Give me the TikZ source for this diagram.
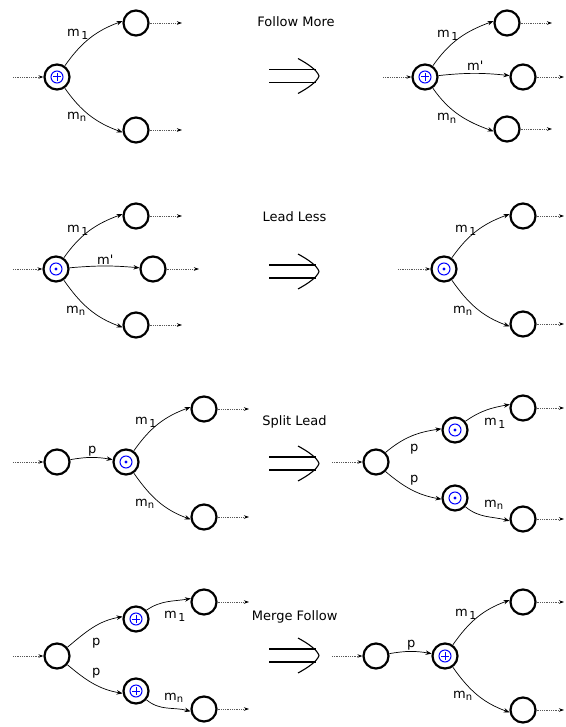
\documentclass[tikz,border=0pt]{standalone}
\usepackage{fontspec}
\setmainfont{DejaVu Sans}
\usetikzlibrary{arrows.meta}
\newcommand{\mone}{m\kern1.5pt\raisebox{-3pt}{\fontsize{11}{11}\selectfont 1}}
\newcommand{\mn}{m\raisebox{-2.5pt}{\fontsize{10}{10}\selectfont n}}
\newcommand{\mprime}{m\textquotesingle}
\tikzset{
  st/.style={circle,draw,line width=2.2pt,minimum size=25pt,inner sep=0pt},
  plusst/.style={st,path picture={
     \draw[blue,line width=1pt] (path picture bounding box.center) circle (6pt);
     \draw[blue,line width=1pt] ([xshift=-3.6pt]path picture bounding box.center) -- ++(7.2pt,0);
     \draw[blue,line width=1pt] ([yshift=-3.6pt]path picture bounding box.center) -- ++(0,7.2pt);}},
  dotst/.style={st,path picture={
     \draw[blue,line width=1pt] (path picture bounding box.center) circle (6pt);
     \fill[blue] (path picture bounding box.center) circle (1.7pt);}},
  msg/.style={-{Stealth[length=6pt,width=4.5pt]},line width=0.7pt},
  ext/.style={densely dotted,line width=0.8pt,draw=black!65,-{Stealth[length=5pt,width=3.5pt,black]}},
  lbl/.style={anchor=base west,inner sep=0pt,font=\fontsize{13}{15}\selectfont},
  ttl/.style={anchor=base,inner sep=0pt,font=\fontsize{13}{15}\selectfont},
  implies/.pic={
     \draw[line width=1.1pt] (-25,-6.5) -- (22,-6.5) (-25,6.5) -- (22,6.5);
     \draw[line width=1.1pt] (4,-17.5) .. controls (14,-12) and (23,-6) .. (25,0)
                              .. controls (23,6) and (14,12) .. (4,17.5);}
}
\begin{document}
\begin{tikzpicture}[x=1pt,y=-1pt]
\useasboundingbox (0,0) rectangle (565,727);
% ---------------- Panel 1: Follow More
\node[ttl] (t1) at (296,27) {Follow More};
\pic at (294,76) {implies};
\node[plusst] (a0) at (57,77) {};
\node[st] (a1) at (136,23) {};
\node[st] (a2) at (136,130) {};
\coordinate (a0i) at (13,77);
\coordinate (a1o) at (182,23);
\coordinate (a2o) at (182,130);
\draw[ext] (a0i) -- (a0);
\draw[ext] (a1) -- (a1o);
\draw[ext] (a2) -- (a2o);
\draw[msg] (a0) to[out=55,in=200] (a1.172);
\draw[msg] (a0) to[out=-55,in=160] (a2.190);
\node[lbl] at (67,37) {\mone};
\node[lbl] at (67,119.5) {\mn};
\node[plusst] (b0) at (425,77) {};
\node[st] (b1) at (507,23) {};
\node[st] (b2) at (523,77) {};
\node[st] (b3) at (507,129) {};
\coordinate (b0i) at (383,77);
\coordinate (b1o) at (552,23);
\coordinate (b2o) at (564,77);
\coordinate (b3o) at (552,129);
\draw[ext] (b0i) -- (b0);
\draw[ext] (b1) -- (b1o);
\draw[ext] (b2) -- (b2o);
\draw[ext] (b3) -- (b3o);
\draw[msg] (b0) to[out=55,in=200] (b1.172);
\draw[msg] (b0) to[bend left=6] (b2);
\draw[msg] (b0) to[out=-55,in=160] (b3.190);
\node[lbl] at (437,38) {\mone};
\node[lbl] at (467,71) {\mprime};
\node[lbl] at (437,121) {\mn};
% ---------------- Panel 2: Lead Less
\node[ttl] (t2) at (294.5,222) {Lead Less};
\pic at (294,271.5) {implies};
\node[dotst] (c0) at (56,269) {};
\node[st] (c1) at (136,216) {};
\node[st] (c2) at (153,269) {};
\node[st] (c3) at (136,325) {};
\coordinate (c0i) at (13,269);
\coordinate (c1o) at (182,216);
\coordinate (c2o) at (199,269);
\coordinate (c3o) at (182,325);
\draw[ext] (c0i) -- (c0);
\draw[ext] (c1) -- (c1o);
\draw[ext] (c2) -- (c2o);
\draw[ext] (c3) -- (c3o);
\draw[msg] (c0) to[out=55,in=200] (c1.172);
\draw[msg] (c0) to[bend left=5] (c2);
\draw[msg] (c0) to[out=-55,in=160] (c3.190);
\node[lbl] at (67,232) {\mone};
\node[lbl] at (97,264) {\mprime};
\node[lbl] at (66,313) {\mn};
\node[dotst] (d0) at (444,269) {};
\node[st] (d1) at (523,216) {};
\node[st] (d2) at (523,324) {};
\coordinate (d0i) at (398,269);
\coordinate (d1o) at (564,216);
\coordinate (d2o) at (564,324);
\draw[ext] (d0i) -- (d0);
\draw[ext] (d1) -- (d1o);
\draw[ext] (d2) -- (d2o);
\draw[msg] (d0) to[out=55,in=200] (d1.172);
\draw[msg] (d0) to[out=-55,in=160] (d2.190);
\node[lbl] at (455,232) {\mone};
\node[lbl] at (453,313) {\mn};
% ---------------- Panel 3: Split Lead
\node[ttl] (t3) at (294.5,425) {Split Lead};
\pic at (294,463.5) {implies};
\node[st] (e0) at (57,462) {};
\node[dotst] (e1) at (126,462) {};
\node[st] (e2) at (204,409) {};
\node[st] (e3) at (204,517) {};
\coordinate (e0i) at (13,462);
\coordinate (e2o) at (249,409);
\coordinate (e3o) at (249,517);
\draw[ext] (e0i) -- (e0);
\draw[ext] (e2) -- (e2o);
\draw[ext] (e3) -- (e3o);
\draw[msg] (e0) to[bend left=10] (e1);
\draw[msg] (e1) to[out=55,in=200] (e2.172);
\draw[msg] (e1) to[out=-55,in=160] (e3.190);
\node[lbl] at (88,453) {p};
\node[lbl] at (135,424) {\mone};
\node[lbl] at (135,506) {\mn};
\node[st] (f0) at (376,462) {};
\node[dotst] (f1) at (455,430) {};
\node[dotst] (f2) at (455,498) {};
\node[st] (f3) at (523,408) {};
\node[st] (f4) at (523,519) {};
\coordinate (f0i) at (332,462);
\coordinate (f3o) at (564,408);
\coordinate (f4o) at (564,519);
\draw[ext] (f0i) -- (f0);
\draw[ext] (f3) -- (f3o);
\draw[ext] (f4) -- (f4o);
\draw[msg] (f0.45) to[out=40,in=188] (f1.175);
\draw[msg] (f0.-45) to[out=-40,in=170] (f2.185);
\draw[msg] (f1.40) to[out=35,in=190] (f3.165);
\draw[msg] (f2.-40) to[out=-40,in=165] (f4.188);
\node[lbl] at (410,451) {p};
\node[lbl] at (410,482) {p};
\node[lbl] at (484,425) {\mone};
\node[lbl] at (484,507) {\mn};
% ---------------- Panel 4: Merge Follow
\node[ttl] (t4) at (294.7,620) {Merge Follow};
\pic at (294,655.5) {implies};
\node[st] (g0) at (57,656) {};
\node[plusst] (g1) at (136,619) {};
\node[plusst] (g2) at (136,691) {};
\node[st] (g3) at (204,602) {};
\node[st] (g4) at (204,709) {};
\coordinate (g0i) at (13,656);
\coordinate (g3o) at (249,602);
\coordinate (g4o) at (249,709);
\draw[ext] (g0i) -- (g0);
\draw[ext] (g3) -- (g3o);
\draw[ext] (g4) -- (g4o);
\draw[msg] (g0.40) to[out=40,in=190] (g1.170);
\draw[msg] (g0.-40) to[out=-40,in=170] (g2.190);
\draw[msg] (g1.40) to[out=35,in=190] (g3.165);
\draw[msg] (g2.-40) to[out=-40,in=165] (g4.190);
\node[lbl] at (92,645) {p};
\node[lbl] at (92,675) {p};
\node[lbl] at (164,618) {\mone};
\node[lbl] at (164,700) {\mn};
\node[st] (h0) at (376,656) {};
\node[plusst] (h1) at (445,656) {};
\node[st] (h2) at (523,602) {};
\node[st] (h3) at (523,710) {};
\coordinate (h0i) at (332,656);
\coordinate (h2o) at (564,602);
\coordinate (h3o) at (564,710);
\draw[ext] (h0i) -- (h0);
\draw[ext] (h2) -- (h2o);
\draw[ext] (h3) -- (h3o);
\draw[msg] (h0) to[bend left=10] (h1);
\draw[msg] (h1) to[out=55,in=200] (h2.172);
\draw[msg] (h1) to[out=-55,in=160] (h3.190);
\node[lbl] at (407,647) {p};
\node[lbl] at (455,616) {\mone};
\node[lbl] at (453,698) {\mn};
\end{tikzpicture}
\end{document}
